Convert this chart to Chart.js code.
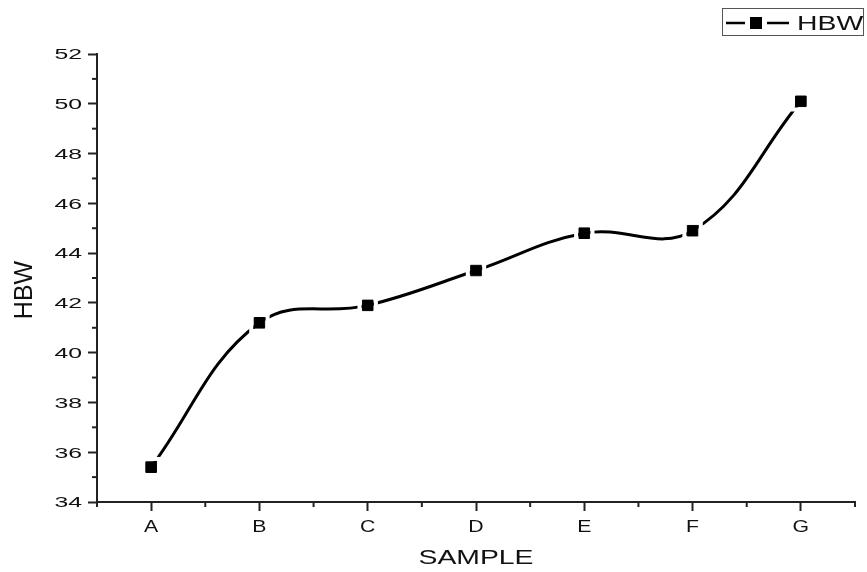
<!DOCTYPE html>
<html>
<head>
<meta charset="utf-8">
<script src="https://cdn.jsdelivr.net/npm/chart.js@4/dist/chart.umd.min.js"></script>
<style>
html,body{margin:0;padding:0;background:#fff;}
#wrap{width:867px;height:572px;}
</style>
</head>
<body>
<div id="wrap"><canvas id="c" width="867" height="572"></canvas></div>
<script>
const categories = ['A','B','C','D','E','F','G'];
const hbwValues = [35.4, 41.2, 41.9, 43.3, 44.8, 44.9, 50.1];
const yTicks = [34, 36, 38, 40, 42, 44, 46, 48, 50, 52];
const seriesName = 'HBW';
const xTitle = 'SAMPLE';
const yTitle = 'HBW';

const FONT = '"Liberation Sans", Arial, sans-serif';

// draw text stretched horizontally (the reference uses wide, tightly set glyphs)
function stretchText(ctx, text, x, y, align, size, sx) {
  ctx.save();
  ctx.font = size + 'px ' + FONT;
  ctx.textBaseline = 'middle';
  ctx.textAlign = align;
  ctx.translate(x, y);
  ctx.scale(sx, 1);
  ctx.fillText(text, 0, 0);
  ctx.restore();
}

// white gap ring around each marker (cuts the curve near points, Origin style)
const markerGaps = {
  id: 'markerGaps',
  afterDatasetsDraw(chart) {
    const ctx = chart.ctx;
    const meta = chart.getDatasetMeta(0);
    ctx.save();
    ctx.strokeStyle = '#fff';
    ctx.lineWidth = 4;
    meta.data.forEach(pt => {
      ctx.strokeRect(pt.x - 8.2, pt.y - 8.2, 16.4, 16.4);
    });
    ctx.restore();
  }
};

const minorTicks = {
  id: 'minorTicks',
  afterDraw(chart) {
    const ctx = chart.ctx;
    const y = chart.scales.y, x = chart.scales.x;
    ctx.save();
    ctx.strokeStyle = '#222';
    ctx.lineWidth = 2;
    for (let i = 0; i < yTicks.length - 1; i++) {
      const v = (yTicks[i] + yTicks[i+1]) / 2;
      const py = y.getPixelForValue(v);
      ctx.beginPath(); ctx.moveTo(y.right - 5, py); ctx.lineTo(y.right, py); ctx.stroke();
    }
    for (let i = 0; i <= categories.length; i++) {
      const px = x.getPixelForValue(i - 0.5);
      ctx.beginPath(); ctx.moveTo(px, x.top); ctx.lineTo(px, x.top + 5); ctx.stroke();
    }
    ctx.restore();
  }
};

const axisText = {
  id: 'axisText',
  afterDraw(chart) {
    const ctx = chart.ctx;
    const y = chart.scales.y, x = chart.scales.x;
    ctx.save();
    ctx.fillStyle = '#111';
    yTicks.forEach(v => {
      stretchText(ctx, String(v), 82, y.getPixelForValue(v) + 1, 'right', 15.5, 1.6);
    });
    categories.forEach((c, i) => {
      stretchText(ctx, c, x.getPixelForValue(i), 527, 'center', 17, 1.25);
    });
    stretchText(ctx, chart.options.scales.x.title.text, (x.left + x.right) / 2, 558, 'center', 21, 1.35);
    ctx.save();
    ctx.translate(25, 290);
    ctx.rotate(-Math.PI / 2);
    stretchText(ctx, chart.options.scales.y.title.text, 0, 0, 'center', 25, 1.0);
    ctx.restore();
    ctx.restore();
  }
};

const boxLegend = {
  id: 'boxLegend',
  afterDraw(chart) {
    const ctx = chart.ctx;
    const ds = chart.data.datasets[0];
    ctx.save();
    ctx.strokeStyle = '#555';
    ctx.lineWidth = 1;
    ctx.strokeRect(722.5, 8.5, 141, 27);
    ctx.strokeStyle = '#000';
    ctx.lineWidth = 2.5;
    ctx.beginPath(); ctx.moveTo(726, 23); ctx.lineTo(745, 23); ctx.stroke();
    ctx.beginPath(); ctx.moveTo(767, 23); ctx.lineTo(789, 23); ctx.stroke();
    ctx.fillStyle = '#000';
    ctx.fillRect(750, 17, 12, 12);
    ctx.fillStyle = '#111';
    stretchText(ctx, ds.label, 797, 24, 'left', 21, 1.35);
    ctx.restore();
  }
};

new Chart(document.getElementById('c'), {
  type: 'line',
  data: {
    labels: categories,
    datasets: [{
      label: seriesName,
      data: hbwValues,
      borderColor: '#000',
      backgroundColor: '#000',
      borderWidth: 3,
      tension: 0.4,
      pointStyle: 'rect',
      pointRadius: 7.5,
      pointHoverRadius: 7.5,
      pointBorderColor: '#000',
      pointBorderWidth: 1,
      pointBackgroundColor: '#000',
      fill: false
    }]
  },
  options: {
    responsive: false,
    animation: false,
    events: [],
    layout: { padding: { top: 54, right: 12, left: 0, bottom: 0 } },
    plugins: { legend: { display: false }, tooltip: { enabled: false } },
    scales: {
      x: {
        offset: true,
        grid: { display: true, drawOnChartArea: false, offset: false, tickLength: 9, tickWidth: 2, tickColor: '#222' },
        border: { display: true, color: '#222', width: 2 },
        ticks: { display: false },
        title: { display: false, text: xTitle },
        afterFit(s) { s.height = 70; }
      },
      y: {
        min: 34, max: 52,
        afterBuildTicks(s) { s.ticks = yTicks.map(v => ({ value: v })); },
        grid: { display: true, drawOnChartArea: false, tickLength: 9, tickWidth: 2, tickColor: '#222' },
        border: { display: true, color: '#222', width: 2 },
        ticks: { display: false },
        title: { display: false, text: yTitle },
        afterFit(s) { s.width = 97; }
      }
    }
  },
  plugins: [markerGaps, minorTicks, axisText, boxLegend]
});
</script>
</body>
</html>
